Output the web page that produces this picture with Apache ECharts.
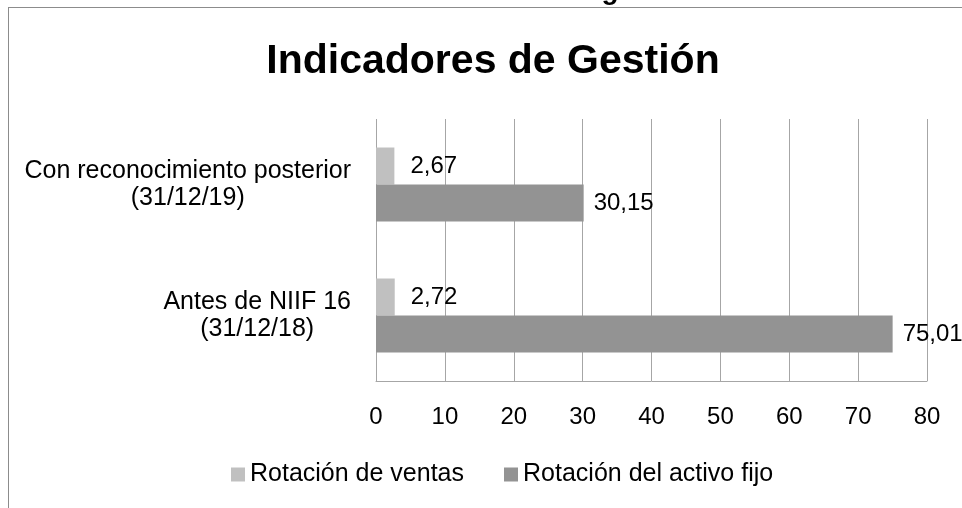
<!DOCTYPE html>
<html>
<head>
<meta charset="utf-8">
<script src="https://cdn.jsdelivr.net/npm/echarts@6/dist/echarts.min.js"></script>
<style>
html,body{margin:0;padding:0;background:#fff;}
#c{width:962px;height:508px;}
</style>
</head>
<body>
<div id="c"></div>
<script>
var categories = ["Antes de NIIF 16\n(31/12/18)", "Con reconocimiento posterior\n(31/12/19)"];
var rotacionVentas = [2.72, 2.67];
var rotacionActivoFijo = [75.01, 30.15];
var seriesNames = ["Rotación de ventas", "Rotación del activo fijo"];
var xTicks = { min: 0, max: 80, interval: 10 };
var chartTitle = "Indicadores de Gestión";
var captionText = "Gráfico 9. Indicadores de gestión";

var FONT = "'Liberation Sans', Arial, sans-serif";
var chart = echarts.init(document.getElementById('c'), null, { renderer: 'canvas' });

function fmt(p) { return p.value.toFixed(2).replace('.', ','); }

var option = {
  backgroundColor: '#ffffff',
  animation: false,
  textStyle: { fontFamily: FONT },
  title: {
    text: chartTitle,
    left: 488,
    textAlign: 'center',
    top: 36,
    textStyle: { fontFamily: FONT, fontSize: 41, fontWeight: 'bold', color: '#000' }
  },
  graphic: [
    { type: 'line', shape: { x1: 8, y1: 7.5, x2: 962, y2: 7.5 }, style: { stroke: '#8c8c8c', lineWidth: 1 } },
    { type: 'line', shape: { x1: 8.5, y1: 7, x2: 8.5, y2: 508 }, style: { stroke: '#8c8c8c', lineWidth: 1 } },
    { type: 'text', x: 480, y: 5, style: { text: captionText, textAlign: 'center', textVerticalAlign: 'bottom', fontFamily: FONT, fontSize: 28, fontWeight: 'bold', fill: '#000' } }
  ],
  legend: {
    data: seriesNames,
    left: 226,
    top: 457,
    itemWidth: 14,
    itemHeight: 14,
    itemGap: 40,
    icon: 'rect',
    textStyle: { fontFamily: FONT, fontSize: 25, color: '#000' }
  },
  grid: { left: 376, right: 35, top: 119, bottom: 127, containLabel: false },
  xAxis: {
    type: 'value',
    min: xTicks.min, max: xTicks.max, interval: xTicks.interval,
    axisLine: { show: true, lineStyle: { color: '#a6a6a6', width: 1 } },
    axisTick: { show: false },
    splitLine: { show: true, lineStyle: { color: '#a6a6a6', width: 1 } },
    axisLabel: { margin: 24, fontFamily: FONT, fontSize: 24, color: '#000' }
  },
  yAxis: {
    type: 'category',
    data: categories,
    axisLine: { show: false },
    axisTick: { show: false },
    axisLabel: {
      margin: 25,
      align: 'right',
      formatter: function (v) { return v.split('\n').map(function (s) { return '{c|' + s + '}'; }).join('\n'); },
      rich: { c: { align: 'center', fontFamily: FONT, fontSize: 25, lineHeight: 27, color: '#000' } }
    }
  },
  series: [
    {
      name: seriesNames[0], type: 'bar', data: rotacionVentas,
      barWidth: 37, barGap: '0%',
      itemStyle: { color: '#c0c0c0' },
      label: { show: true, position: 'right', distance: 16, formatter: fmt, fontFamily: FONT, fontSize: 24, color: '#000' }
    },
    {
      name: seriesNames[1], type: 'bar', data: rotacionActivoFijo,
      barWidth: 37, barGap: '0%',
      itemStyle: { color: '#939393' },
      label: { show: true, position: 'right', distance: 10, formatter: fmt, fontFamily: FONT, fontSize: 24, color: '#000' }
    }
  ]
};
chart.setOption(option);
</script>
</body>
</html>
